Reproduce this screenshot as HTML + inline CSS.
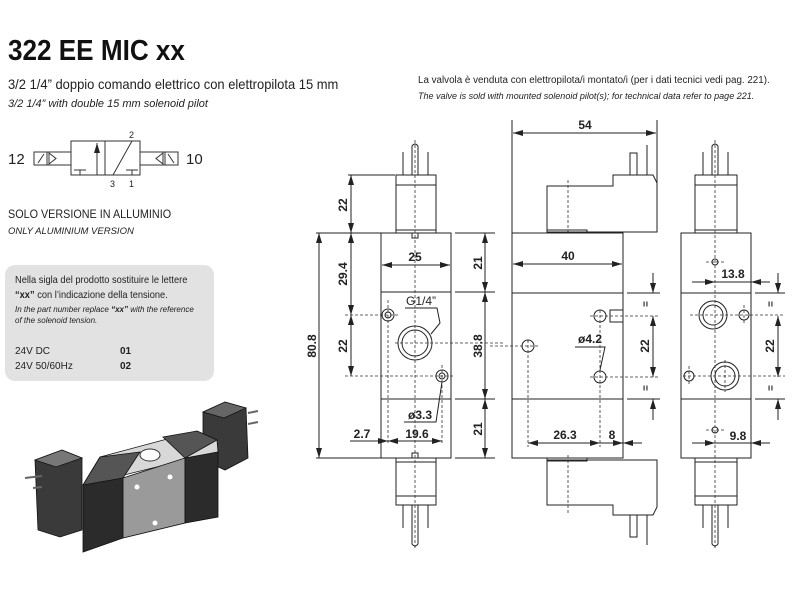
<!DOCTYPE html>
<html><head><meta charset="utf-8"><style>
body{margin:0;background:#fff;width:800px;height:600px;overflow:hidden;font-family:"Liberation Sans",sans-serif}
svg{position:absolute;left:0;top:0}
</style></head><body>
<svg width="800" height="600" viewBox="0 0 800 600" font-family="Liberation Sans, sans-serif">
<defs>
<marker id="a" viewBox="0 0 10 6" refX="10" refY="3" markerWidth="10" markerHeight="6" orient="auto-start-reverse" markerUnits="userSpaceOnUse"><path d="M0,0 L10,3 L0,6 Z" fill="#222"/></marker>
</defs>
<!-- Title -->
<text x="8" y="60" font-size="29" font-weight="bold" transform="translate(8,0) scale(0.9,1) translate(-8,0)" fill="#111">322 EE MIC xx</text>
<text x="8" y="89" font-size="13.5" fill="#222" transform="translate(8,0) scale(0.96,1) translate(-8,0)">3/2 1/4” doppio comando elettrico con elettropilota 15 mm</text>
<text x="8" y="107" font-size="11" font-style="italic" fill="#222">3/2 1/4” with double 15 mm solenoid pilot</text>
<text x="418" y="83" font-size="10.5" fill="#222" transform="translate(418,0) scale(0.935,1) translate(-418,0)">La valvola è venduta con elettropilota/i montato/i (per i dati tecnici vedi pag. 221).</text>
<text x="418" y="99" font-size="9.3" font-style="italic" fill="#222" transform="translate(418,0) scale(0.97,1) translate(-418,0)">The valve is sold with mounted solenoid pilot(s); for technical data refer to page 221.</text>

<!-- symbol -->
<g stroke="#333" stroke-width="1" fill="none">
<rect x="71" y="141" width="69" height="34"/><line x1="105" y1="141" x2="105" y2="175"/>
<line x1="97" y1="175" x2="97" y2="143" marker-end="url(#a)"/>
<line x1="74" y1="170" x2="86" y2="170"/><line x1="80" y1="170" x2="80" y2="175"/>
<line x1="126" y1="170" x2="138" y2="170"/><line x1="132" y1="170" x2="132" y2="175"/>
<line x1="113" y1="175" x2="132" y2="141"/>
<rect x="34" y="152" width="37" height="13"/><line x1="47" y1="152" x2="47" y2="165"/>
<line x1="38" y1="163" x2="44" y2="154"/><path d="M49,153 L56,158.5 L49,164 Z"/>
<rect x="140" y="152" width="38" height="13"/><line x1="165" y1="152" x2="165" y2="165"/>
<line x1="168" y1="154" x2="174" y2="163"/><path d="M163,153 L156,158.5 L163,164 Z"/>
</g>
<g font-size="9" fill="#222"><text x="129" y="138">2</text><text x="110" y="187">3</text><text x="129" y="187">1</text></g>
<text x="8" y="164" font-size="15" fill="#222">12</text><text x="186" y="164" font-size="15" fill="#222">10</text>

<text x="8" y="218" font-size="12" fill="#222" transform="translate(8,0) scale(0.9,1) translate(-8,0)">SOLO VERSIONE IN ALLUMINIO</text>
<text x="8" y="234" font-size="9.5" font-style="italic" fill="#222">ONLY ALUMINIUM VERSION</text>

<rect x="5" y="265" width="209" height="116" rx="10" fill="#e2e2e2"/>
<text x="15" y="283" font-size="10" fill="#222" transform="translate(15,0) scale(0.93,1) translate(-15,0)">Nella sigla del prodotto sostituire le lettere</text>
<text x="15" y="298" font-size="10" fill="#222" transform="translate(15,0) scale(0.93,1) translate(-15,0)"><tspan font-weight="bold">“xx”</tspan> con l’indicazione della tensione.</text>
<text x="15" y="312" font-size="8" font-style="italic" fill="#222">In the part number replace <tspan font-weight="bold">“xx”</tspan> with the reference</text>
<text x="15" y="323" font-size="8" font-style="italic" fill="#222">of the solenoid tension.</text>
<g font-size="10" fill="#222"><text x="15" y="354">24V DC</text><text x="15" y="369">24V 50/60Hz</text>
<text x="120" y="354" font-weight="bold">01</text><text x="120" y="369" font-weight="bold">02</text></g>

<!-- product image -->
<g stroke="#111" stroke-width="0.8">
<polygon points="203,412 225,402 246,408 248,458 225,470 203,460" fill="#3a3a3a"/>
<polygon points="203,412 225,402 246,408 224,418" fill="#666"/>
<polygon points="100,457 197,431 217,440 218,452 83,485" fill="#d8d8d8"/>
<polygon points="83,485 123,478 123,538 83,552" fill="#2b2b2b"/>
<polygon points="123,478 185,458 185,523 123,538" fill="#9a9a9a"/>
<polygon points="185,458 218,452 218,517 185,523" fill="#2b2b2b"/>
<polygon points="100,457 83,485 123,478 140,452" fill="#555"/>
<polygon points="163,437 197,431 217,440 185,458" fill="#555"/>
<polygon points="35,460 62,450 82,458 82,530 60,537 38,530" fill="#3a3a3a"/>
<polygon points="35,460 62,450 82,458 56,467" fill="#777"/>
</g>
<ellipse cx="150" cy="455" rx="10" ry="6" fill="#fff" stroke="#333"/>
<circle cx="170" cy="477" r="2.5" fill="#fff"/><circle cx="137" cy="487" r="2.5" fill="#fff"/><circle cx="155" cy="523" r="2.5" fill="#fff"/>
<g stroke="#666" stroke-width="2"><line x1="25" y1="478" x2="42" y2="476"/><line x1="33" y1="488" x2="42" y2="487"/><line x1="248" y1="413" x2="258" y2="411"/><line x1="248" y1="424" x2="258" y2="422"/></g>

<!-- drawings -->
<g stroke="#222" stroke-width="1" fill="none">
<!-- LEFT VIEW -->
<rect x="381" y="233" width="70" height="225"/>
<line x1="381" y1="292" x2="451" y2="292"/><line x1="381" y1="399" x2="451" y2="399"/>
<rect x="396" y="175" width="40" height="58"/><line x1="396" y1="185" x2="436" y2="185"/><line x1="396" y1="230" x2="436" y2="230"/>
<rect x="396" y="458" width="40" height="47"/><line x1="396" y1="496" x2="436" y2="496"/><line x1="396" y1="462" x2="436" y2="462"/>
<line x1="403" y1="152" x2="403" y2="175"/><line x1="428" y1="152" x2="428" y2="175"/>
<path d="M412,175 L412,146 Q415,142 418,146 L418,175"/>
<line x1="403" y1="505" x2="403" y2="528"/><line x1="428" y1="505" x2="428" y2="528"/>
<path d="M412,505 L412,544 Q415,548 418,544 L418,505"/>
<rect x="412" y="233" width="6" height="5"/><rect x="412" y="453" width="6" height="5"/>
<circle cx="388" cy="315" r="6"/><circle cx="388" cy="315" r="3"/>
<circle cx="442" cy="376" r="6"/><circle cx="442" cy="376" r="3"/>
<circle cx="415" cy="343" r="17"/><circle cx="415" cy="343" r="13"/>
<path d="M405,308 L437,308 L440,323 L431,334"/>
<path d="M404,422 L436,422 L442,382"/>
<!-- left dims -->
<line x1="348" y1="175" x2="395" y2="175"/><line x1="316" y1="233" x2="381" y2="233"/><line x1="316" y1="458" x2="381" y2="458"/>
<line x1="351" y1="175" x2="351" y2="233" marker-start="url(#a)" marker-end="url(#a)"/>
<line x1="351" y1="233" x2="351" y2="315" marker-start="url(#a)" marker-end="url(#a)"/>
<line x1="351" y1="315" x2="351" y2="376" marker-start="url(#a)" marker-end="url(#a)"/>
<line x1="319" y1="233" x2="319" y2="458" marker-start="url(#a)" marker-end="url(#a)"/>
<line x1="382" y1="265" x2="450" y2="265" marker-start="url(#a)" marker-end="url(#a)"/>
<line x1="455" y1="233" x2="495" y2="233"/><line x1="455" y1="292" x2="495" y2="292"/><line x1="455" y1="399" x2="495" y2="399"/><line x1="455" y1="458" x2="495" y2="458"/>
<line x1="485" y1="233" x2="485" y2="292" marker-start="url(#a)" marker-end="url(#a)"/>
<line x1="485" y1="292" x2="485" y2="399" marker-start="url(#a)" marker-end="url(#a)"/>
<line x1="485" y1="399" x2="485" y2="458" marker-start="url(#a)" marker-end="url(#a)"/>
<line x1="350" y1="441" x2="388" y2="441" marker-end="url(#a)"/>
<line x1="388" y1="441" x2="442" y2="441" marker-start="url(#a)" marker-end="url(#a)"/>

<!-- MIDDLE VIEW -->
<rect x="512" y="233" width="111" height="225"/>
<line x1="512" y1="293" x2="623" y2="293"/><line x1="512" y1="399" x2="623" y2="399"/>
<path d="M547,233 L547,186 L613,186 L613,175 L653,175 L657,183 L657,232 L547,232"/>
<rect x="547" y="230" width="40" height="3"/>
<rect x="630" y="153" width="7" height="22"/><line x1="647" y1="145" x2="647" y2="175"/>
<path d="M547,458 L547,505 L613,505 L613,515 L653,515 L657,507 L657,460 L547,460"/>
<rect x="547" y="458" width="40" height="3"/>
<rect x="630" y="515" width="7" height="22"/><line x1="647" y1="515" x2="647" y2="545"/>
<circle cx="600" cy="316" r="6"/><circle cx="600" cy="377" r="6"/><circle cx="528" cy="346" r="6"/>
<rect x="610" y="310" width="13" height="12"/>
<path d="M575,347 L605,347 L600,370"/>
<line x1="512" y1="120" x2="512" y2="233"/><line x1="657" y1="120" x2="657" y2="183"/>
<line x1="513" y1="133" x2="656" y2="133" marker-start="url(#a)" marker-end="url(#a)"/>
<line x1="513" y1="264" x2="622" y2="264" marker-start="url(#a)" marker-end="url(#a)"/>
<line x1="627" y1="293" x2="660" y2="293"/><line x1="627" y1="399" x2="660" y2="399"/>
<line x1="653" y1="273" x2="653" y2="293" marker-end="url(#a)"/>
<line x1="653" y1="316" x2="653" y2="377" marker-start="url(#a)" marker-end="url(#a)"/>
<line x1="653" y1="420" x2="653" y2="399" marker-end="url(#a)"/>
<line x1="528" y1="443" x2="600" y2="443" marker-start="url(#a)" marker-end="url(#a)"/>
<line x1="600" y1="443" x2="623" y2="443" marker-end="url(#a)"/>
<line x1="642" y1="443" x2="623" y2="443" marker-end="url(#a)"/>

<!-- RIGHT VIEW -->
<rect x="681" y="233" width="70" height="225"/>
<line x1="681" y1="293" x2="751" y2="293"/><line x1="681" y1="399" x2="751" y2="399"/>
<rect x="695" y="175" width="42" height="58"/><line x1="695" y1="185" x2="737" y2="185"/><line x1="695" y1="230" x2="737" y2="230"/>
<rect x="695" y="458" width="42" height="47"/><line x1="695" y1="496" x2="737" y2="496"/><line x1="695" y1="462" x2="737" y2="462"/>
<line x1="703" y1="152" x2="703" y2="175"/><line x1="728" y1="152" x2="728" y2="175"/>
<path d="M712,175 L712,146 Q715,142 718,146 L718,175"/>
<line x1="703" y1="505" x2="703" y2="528"/><line x1="728" y1="505" x2="728" y2="528"/>
<path d="M712,505 L712,544 Q715,548 718,544 L718,505"/>
<circle cx="715" cy="262" r="3"/><circle cx="715" cy="430" r="3"/>
<circle cx="713" cy="315" r="14"/><circle cx="713" cy="315" r="10"/>
<circle cx="725" cy="376" r="14"/><circle cx="725" cy="376" r="10"/>
<circle cx="744" cy="315" r="5"/><circle cx="689" cy="376" r="5"/>
<line x1="692" y1="282" x2="715" y2="282" marker-end="url(#a)"/><line x1="770" y1="282" x2="751" y2="282" marker-end="url(#a)"/><line x1="715" y1="282" x2="751" y2="282"/>
<line x1="692" y1="443" x2="715" y2="443" marker-end="url(#a)"/><line x1="770" y1="443" x2="751" y2="443" marker-end="url(#a)"/><line x1="715" y1="443" x2="751" y2="443"/>
<line x1="755" y1="293" x2="785" y2="293"/><line x1="755" y1="399" x2="785" y2="399"/>
<line x1="778" y1="273" x2="778" y2="293" marker-end="url(#a)"/>
<line x1="778" y1="316" x2="778" y2="377" marker-start="url(#a)" marker-end="url(#a)"/>
<line x1="778" y1="420" x2="778" y2="399" marker-end="url(#a)"/>
</g>
<!-- dashed center lines -->
<g stroke="#333" stroke-width="0.8" fill="none" stroke-dasharray="3,2">
<line x1="415" y1="140" x2="415" y2="550"/><line x1="388" y1="300" x2="388" y2="445"/><line x1="442" y1="365" x2="442" y2="445"/>
<line x1="345" y1="315" x2="400" y2="315"/><line x1="345" y1="376" x2="455" y2="376"/><line x1="395" y1="343" x2="505" y2="343"/>
<line x1="568" y1="180" x2="568" y2="235"/><line x1="568" y1="455" x2="568" y2="515"/>
<line x1="528" y1="340" x2="528" y2="447"/><line x1="600" y1="310" x2="600" y2="447"/>
<line x1="490" y1="346" x2="540" y2="346"/><line x1="590" y1="316" x2="660" y2="316"/><line x1="590" y1="377" x2="660" y2="377"/>
<line x1="715" y1="140" x2="715" y2="550"/><line x1="706" y1="262" x2="724" y2="262"/><line x1="706" y1="430" x2="724" y2="430"/>
<line x1="690" y1="315" x2="785" y2="315"/><line x1="683" y1="376" x2="785" y2="376"/><line x1="725" y1="360" x2="725" y2="392"/><line x1="744" y1="305" x2="744" y2="325"/><line x1="689" y1="366" x2="689" y2="386"/>
</g>
<!-- labels -->
<g font-size="12" font-weight="bold" fill="#222" text-anchor="middle">
<text x="415" y="261">25</text><text x="568" y="260">40</text><text x="585" y="129">54</text>
<text x="421" y="305" font-weight="normal">G1/4”</text>
<text x="590" y="343">ø4.2</text><text x="420" y="419">ø3.3</text>
<text x="362" y="438">2.7</text><text x="417" y="438">19.6</text>
<text x="565" y="439">26.3</text><text x="612" y="439">8</text>
<text x="733" y="278">13.8</text><text x="738" y="440">9.8</text>
<text transform="translate(347,205) rotate(-90)">22</text>
<text transform="translate(347,274) rotate(-90)">29.4</text>
<text transform="translate(347,346) rotate(-90)">22</text>
<text transform="translate(316,346) rotate(-90)">80.8</text>
<text transform="translate(482,263) rotate(-90)">21</text>
<text transform="translate(482,346) rotate(-90)">38.8</text>
<text transform="translate(482,429) rotate(-90)">21</text>
<text transform="translate(649,346) rotate(-90)">22</text>
<text transform="translate(774,346) rotate(-90)">22</text>
<text transform="translate(649,304) rotate(-90)" font-size="10">=</text>
<text transform="translate(649,388) rotate(-90)" font-size="10">=</text>
<text transform="translate(774,304) rotate(-90)" font-size="10">=</text>
<text transform="translate(774,388) rotate(-90)" font-size="10">=</text>
</g>
</svg>
</body></html>
